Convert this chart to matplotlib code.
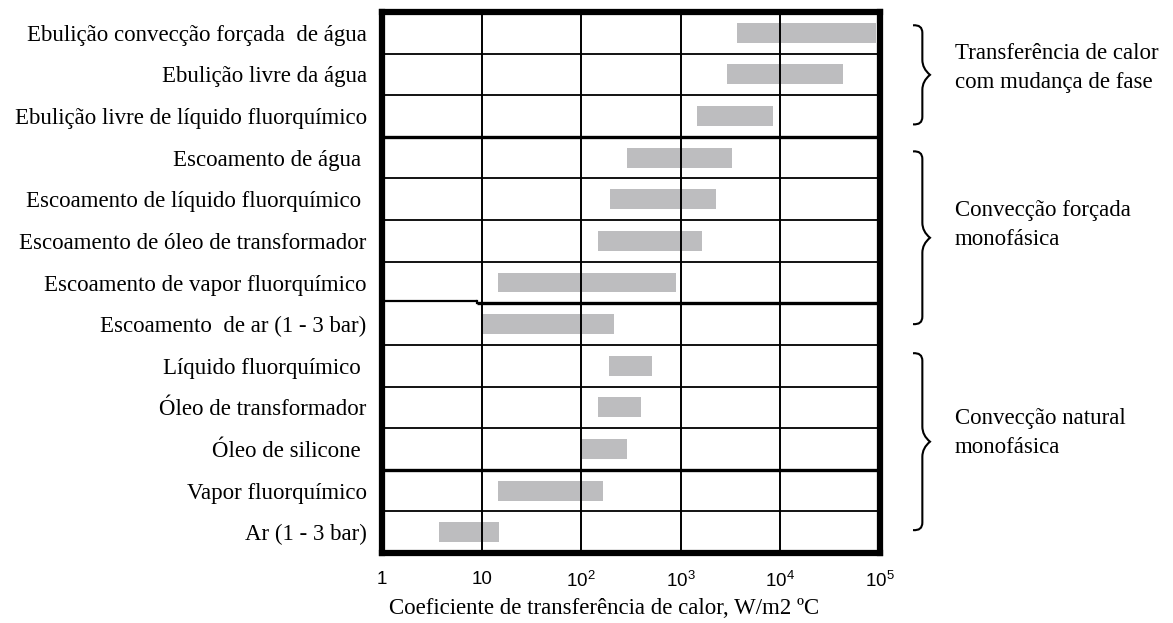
import matplotlib
matplotlib.use("Agg")
import matplotlib.pyplot as plt
import matplotlib.transforms as mtransforms
from matplotlib.path import Path
from matplotlib.patches import PathPatch
import numpy as np

# --- data ---------------------------------------------------------------
categories = [
    "Ebulição convecção forçada  de água",
    "Ebulição livre da água",
    "Ebulição livre de líquido fluorquímico",
    "Escoamento de água ",
    "Escoamento de líquido fluorquímico ",
    "Escoamento de óleo de transformador",
    "Escoamento de vapor fluorquímico",
    "Escoamento  de ar (1 - 3 bar)",
    "Líquido fluorquímico ",
    "Óleo de transformador",
    "Óleo de silicone ",
    "Vapor fluorquímico",
    "Ar (1 - 3 bar)",
]
h_low = [3700, 2900, 1450, 290, 195, 148, 14.5, 9.8, 190, 148, 100, 14.5, 3.7]
h_high = [92000, 43000, 8400, 3300, 2250, 1650, 900, 215, 510, 400, 290, 165, 14.8]

group_labels = [
    "Transferência de calor\ncom mudança de fase",
    "Convecção forçada\nmonofásica",
    "Convecção natural\nmonofásica",
]
group_rows = [(0, 2), (3, 7), (8, 12)]

tick_values = [1, 10, 100, 1000, 10000, 100000]
tick_labels = ["1", "10", "10$^2$", "10$^3$", "10$^4$", "10$^5$"]
xlabel = "Coeficiente de transferência de calor, W/m2 ºC"

# --- style --------------------------------------------------------------
plt.rcParams["mathtext.fontset"] = "custom"
plt.rcParams["mathtext.rm"] = "Liberation Sans"
plt.rcParams["mathtext.it"] = "Liberation Sans"
serif = "Liberation Serif"
sans = "Liberation Sans"
bar_color = "#bdbdbf"
fs = 16.5

W, H = 1173, 623
fig = plt.figure(figsize=(W / 100, H / 100), dpi=100)
ax = fig.add_axes([382 / W, 1 - 553 / H, (880 - 382) / W, (553 - 12) / H])

n = len(categories)
ypos = np.arange(n) + 0.5
lo = np.array(h_low)
hi = np.array(h_high)
ax.barh(ypos, hi - lo, left=lo, height=0.48, color=bar_color, zorder=1)

ax.set_xscale("log")
ax.set_xlim(1, 1e5)
ax.set_ylim(n, 0)

# grid: thin cell lines, heavier separators between sections
for xv in tick_values[1:-1]:
    ax.axvline(xv, color="black", lw=1.4, zorder=3)
for r in range(1, n):
    if r in (3, 11):
        ax.axhline(r, color="black", lw=2.4, zorder=3)
    elif r == 7:
        ax.plot([1, 8.9], [r - 0.05, r - 0.05], color="black", lw=1.6, zorder=3,
                solid_capstyle="butt")
        ax.plot([8.9, 8.9], [r - 0.05, r], color="black", lw=1.6, zorder=3)
        ax.plot([8.9, 1e5], [r, r], color="black", lw=2.4, zorder=3,
                solid_capstyle="butt")
    else:
        ax.axhline(r, color="black", lw=1.3, zorder=3)

for s in ax.spines.values():
    s.set_linewidth(4.5)
    s.set_zorder(4)

ax.set_yticks(ypos)
ax.set_yticklabels(categories, fontfamily=serif, fontsize=fs)
ax.set_xticks(tick_values)
ax.set_xticklabels(tick_labels, fontfamily=sans, fontsize=13.5)
ax.xaxis.set_minor_locator(matplotlib.ticker.NullLocator())
ax.tick_params(axis="both", length=0)
ax.tick_params(axis="y", pad=11)
ax.tick_params(axis="x", pad=13)
ax.set_xlabel(xlabel, fontfamily=serif, fontsize=fs)
ax.xaxis.set_label_coords(0.446, -0.102)
ax.xaxis.label.set_va("center")

# curly braces and group captions to the right of the chart
trans = mtransforms.blended_transform_factory(fig.transFigure, ax.transData)


def brace(y0, y1, x0, xw):
    ym = 0.5 * (y0 + y1)
    xv = x0 + xw * 0.55
    xt = x0 + xw
    k = 0.18
    verts = [
        (x0, y0), (xv, y0 - 0.02), (xv, y0 + k), (xv, y0 + 2 * k),
        (xv, ym - 2 * k), (xv, ym - 0.15), (xt, ym),
        (xv, ym + 0.15), (xv, ym + 2 * k),
        (xv, y1 - 2 * k), (xv, y1 - k), (xv, y1 + 0.02), (x0, y1),
    ]
    codes = [Path.MOVETO, Path.CURVE3, Path.CURVE3, Path.LINETO,
             Path.LINETO, Path.CURVE3, Path.CURVE3,
             Path.CURVE3, Path.CURVE3,
             Path.LINETO, Path.LINETO, Path.CURVE3, Path.CURVE3]
    return PathPatch(Path(verts, codes), fill=False, lw=1.5, color="black",
                     transform=trans, clip_on=False)


brace_insets = [(0.32, 0.3), (0.35, 0.5), (0.2, 0.55)]
caption_shift = [-0.17, -0.31, -0.22]
for (r0, r1), (a, b), dy, lab in zip(group_rows, brace_insets, caption_shift,
                                     group_labels):
    y0, y1 = r0 + a, r1 + 1 - b
    fig.add_artist(brace(y0, y1, 913 / W, 17 / W))
    ym = 0.5 * (y0 + y1)
    fig.text(955 / W, ym + dy, lab, transform=trans, ha="left", va="center",
             fontfamily=serif, fontsize=fs, linespacing=1.5)

fig.savefig("out.png", dpi=100)
